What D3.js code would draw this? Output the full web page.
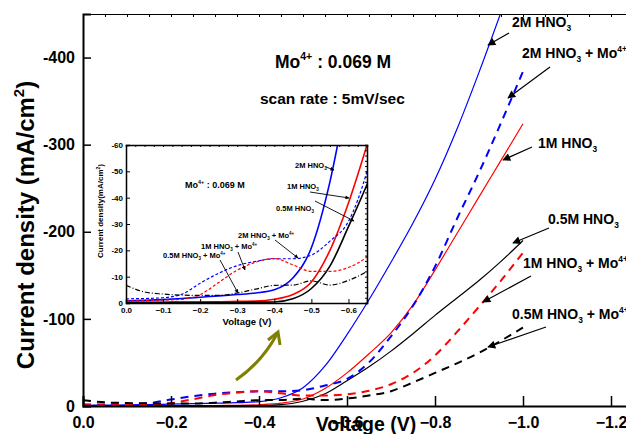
<!DOCTYPE html>
<html lang="en">
<head>
    <meta charset="UTF-8">
    <title>Polarization curves</title>
    <script src="https://d3js.org/d3.v7.min.js"></script>
    <style>
        body { margin: 0; background: #fff; }
        text { font-family: "Liberation Sans", Arial, sans-serif; font-weight: bold; }
    </style>
</head>
<body>
    <div id="chart"></div>
    <script>
        // Data (voltage in V, current density in mA/cm2, plotted as negative)
        const voltage = [0, -0.05, -0.1, -0.15, -0.2, -0.25, -0.3, -0.35, -0.4, -0.45, -0.5,
                         -0.55, -0.6, -0.65, -0.7, -0.75, -0.8, -0.85, -0.9, -0.95, -1.0];
        const hno3_2M   = [0.8, 1.0, 1.3, 1.7, 2.2, 2.7, 3.2, 3.8, 5, 9.5, 21, 46, 82, 122, 165, 210, 260, 318, 383, 452, null];
        const hno3_1M   = [0.4, 0.4, 0.4, 0.5, 0.5, 0.5, 0.6, 0.7, 1.4, 3.2, 8, 20, 38, 60, 84, 116, 156, 198, 240, 282, 324];
        const hno3_05M  = [0.1, 0.1, 0.1, 0.1, 0.1, 0.2, 0.2, 0.3, 0.4, 1.6, 5.5, 14, 29, 45, 63, 83, 104, 124, 144, 166, 190];
        const mo_2M     = [1.6, 1.7, 2.0, 3.3, 7.5, 11.3, 14.2, 15.8, 16.8, 16.8, 18.2, 23.5, 31, 50, 80, 115, 160, 215, 268, 325, 384];
        const mo_1M     = [0.8, 0.9, 1.1, 1.4, 3.2, 7.8, 12.5, 15.5, 16.9, 14.5, 12, 12, 13.5, 17.5, 25, 38, 58, 85, 114, 144, 176];
        const mo_05M    = [6.7, 4.2, 3.4, 3.0, 2.9, 2.9, 3.8, 5.3, 6.7, 6.8, 8.4, 6.8, 8.6, 12, 17, 27, 38, 49, 61, 75, 90];

        const xTicks = [0, -0.2, -0.4, -0.6, -0.8, -1.0, -1.2];
        const yTicks = [0, -100, -200, -300, -400];
        const insetXTicks = [0, -0.1, -0.2, -0.3, -0.4, -0.5, -0.6];
        const insetYTicks = [0, -10, -20, -30, -40, -50, -60];

        const series = [
            { name: '2M', values: hno3_2M, color: '#0000ff', main: 'solid', inset: 'solid' },
            { name: '1M', values: hno3_1M, color: '#ff0000', main: 'solid', inset: 'solid' },
            { name: '05M', values: hno3_05M, color: '#000000', main: 'solid', inset: 'solid' },
            { name: '2MMo', values: mo_2M, color: '#0000ff', main: 'dash', inset: 'dash' },
            { name: '1MMo', values: mo_1M, color: '#ff0000', main: 'dash', inset: 'dash' },
            { name: '05MMo', values: mo_05M, color: '#000000', main: 'dash', inset: 'dashdot' }
        ];

        const width = 626, height = 434;
        const svg = d3.select('#chart').append('svg')
            .attr('width', width).attr('height', height);

        const defs = svg.append('defs');
        defs.append('marker').attr('id', 'arrow')
            .attr('viewBox', '0 0 10 10').attr('refX', 9).attr('refY', 5)
            .attr('markerWidth', 10).attr('markerHeight', 8).attr('markerUnits', 'userSpaceOnUse')
            .attr('orient', 'auto')
            .append('path').attr('d', 'M0,0 L10,5 L0,10 Z').attr('fill', '#000');
        defs.append('marker').attr('id', 'arrowSmall')
            .attr('viewBox', '0 0 10 10').attr('refX', 9).attr('refY', 5)
            .attr('markerWidth', 5).attr('markerHeight', 4).attr('markerUnits', 'userSpaceOnUse')
            .attr('orient', 'auto')
            .append('path').attr('d', 'M0,0 L10,5 L0,10 Z').attr('fill', '#000');

        // main scales
        const x = d3.scaleLinear().domain([0, -1.25]).range([83, 633]);
        const y = d3.scaleLinear().domain([0, -450]).range([406, 14]);

        defs.append('clipPath').attr('id', 'clipMain')
            .append('rect').attr('x', 83).attr('y', 14).attr('width', 560).attr('height', 392);

        const mainLines = svg.append('g').attr('clip-path', 'url(#clipMain)');
        series.forEach(s => {
            const line = d3.line()
                .defined((d, i) => s.values[i] !== null)
                .x((d, i) => x(voltage[i]))
                .y((d, i) => y(-s.values[i]))
                .curve(d3.curveMonotoneX);
            mainLines.append('path')
                .attr('d', line(voltage))
                .attr('fill', 'none')
                .attr('stroke', s.color)
                .attr('stroke-width', s.main === 'solid' ? 1.2 : 2)
                .attr('stroke-dasharray', s.main === 'solid' ? null : '8,6');
        });

        // main axes
        const xAxis = d3.axisBottom(x).tickValues(xTicks).tickSize(-10)
            .tickFormat(d3.format('.1f'));
        const xMinor = d3.axisBottom(x).tickValues(d3.range(0, -1.26, -0.05)).tickSize(-5).tickFormat('');
        const gx = svg.append('g').attr('transform', 'translate(0,406)');
        gx.call(xMinor);
        gx.call(xAxis);
        const yAxis = d3.axisLeft(y).tickValues(yTicks).tickSize(-8).tickFormat(d => d === 0 ? '0' : d);
        const yMinor = d3.axisLeft(y).tickValues(d3.range(0, -451, -20)).tickSize(-5).tickFormat('');
        const gy = svg.append('g').attr('transform', 'translate(83,0)');
        gy.call(yMinor);
        gy.call(yAxis);
        const xTop = d3.axisTop(x).tickValues(d3.range(0, -1.26, -0.05)).tickSize(-3).tickFormat('');
        svg.append('g').attr('transform', 'translate(0,14)').call(xTop);

        [gx, gy].forEach(g => {
            g.selectAll('.domain').attr('stroke-width', 2);
            g.selectAll('.tick line').attr('stroke-width', 1.5);
        });
        svg.selectAll('.domain').attr('stroke', '#000');
        svg.selectAll('.tick text').attr('font-family', '"Liberation Sans", Arial, sans-serif').attr('fill', '#000');
        gx.selectAll('.tick text').attr('font-size', 16).attr('dy', '1.05em').attr('y', 5);
        gy.selectAll('.tick text').attr('font-size', 16).attr('x', -8);

        svg.append('text').attr('x', 366).attr('y', 431).attr('text-anchor', 'middle')
            .attr('font-size', 19.5).text('Voltage (V)');
        const yl = svg.append('text').attr('transform', 'translate(34,225) rotate(-90)')
            .attr('text-anchor', 'middle').attr('font-size', 24);
        yl.append('tspan').text('Current density (mA/cm');
        yl.append('tspan').attr('font-size', 15).attr('dy', -10).text('2');
        yl.append('tspan').attr('dy', 10).text(')');

        // rich label helper: parts of [text, 'sub'|'sup'|null]
        function richText(g, xPos, yPos, size, parts) {
            const t = g.append('text').attr('x', xPos).attr('y', yPos).attr('font-size', size);
            let shift = 0;
            parts.forEach(([str, kind]) => {
                let target = kind === 'sub' ? size * 0.3 : kind === 'sup' ? -size * 0.45 : 0;
                t.append('tspan').attr('dy', target - shift)
                    .attr('font-size', kind ? size * 0.6 : size).text(str);
                shift = target;
            });
            return t;
        }

        const lbl = (conc, mo) => mo
            ? [[conc + ' HNO', null], ['3', 'sub'], [' + Mo', null], ['4+', 'sup']]
            : [[conc + ' HNO', null], ['3', 'sub']];

        const mainLabels = [
            { x: 512, y: 27, parts: lbl('2M', false), from: [509, 33], to: [488, 45] },
            { x: 522, y: 58, parts: lbl('2M', true), from: [550, 67], to: [508, 98] },
            { x: 538, y: 148, parts: lbl('1M', false), from: [532, 147], to: [503, 160] },
            { x: 548, y: 224, parts: lbl('0.5M', false), from: [549, 228], to: [513, 243] },
            { x: 523, y: 268, parts: lbl('1M', true), from: [531, 276], to: [483, 302] },
            { x: 512, y: 319, parts: lbl('0.5M', true), from: [546, 327], to: [488, 347] }
        ];
        mainLabels.forEach(l => {
            richText(svg, l.x, l.y, 14, l.parts);
            svg.append('line').attr('x1', l.from[0]).attr('y1', l.from[1])
                .attr('x2', l.to[0]).attr('y2', l.to[1])
                .attr('stroke', '#000').attr('stroke-width', 1.2).attr('marker-end', 'url(#arrow)');
        });

        richText(svg, 275, 68, 17.5, [['Mo', null], ['4+', 'sup'], [' : 0.069 M', null]]);
        svg.append('text').attr('x', 260).attr('y', 104).attr('font-size', 15.5).text('scan rate : 5mV/sec');

        // olive arrow
        svg.append('path').attr('d', 'M236,380 Q262,362 277,334')
            .attr('fill', 'none').attr('stroke', '#7f7f00').attr('stroke-width', 3);
        svg.append('path').attr('d', 'M268,340 L278,332 L280,345')
            .attr('fill', 'none').attr('stroke', '#7f7f00').attr('stroke-width', 3);

        // inset
        const ix = d3.scaleLinear().domain([0, -0.65]).range([126, 367]);
        const iy = d3.scaleLinear().domain([0, -60]).range([303, 145]);
        const inset = svg.append('g');
        inset.append('rect').attr('x', 126).attr('y', 145).attr('width', 241).attr('height', 158)
            .attr('fill', '#fff');
        defs.append('clipPath').attr('id', 'clipInset')
            .append('rect').attr('x', 126).attr('y', 145).attr('width', 241).attr('height', 158);
        const insetLines = inset.append('g').attr('clip-path', 'url(#clipInset)');
        const dashes = { solid: null, dash: '3,2', dashdot: '5,2,1,2' };
        series.forEach(s => {
            const line = d3.line()
                .defined((d, i) => s.values[i] !== null)
                .x((d, i) => ix(voltage[i]))
                .y((d, i) => iy(-s.values[i]))
                .curve(d3.curveMonotoneX);
            insetLines.append('path')
                .attr('d', line(voltage))
                .attr('fill', 'none')
                .attr('stroke', s.color)
                .attr('stroke-width', s.inset === 'solid' ? 1.6 : 1.2)
                .attr('stroke-dasharray', dashes[s.inset]);
        });

        const ixAxis = d3.axisBottom(ix).tickValues(insetXTicks).tickSize(-4).tickFormat(d3.format('.1f'));
        const ixMinor = d3.axisBottom(ix).tickValues(d3.range(0, -0.651, -0.05)).tickSize(-2).tickFormat('');
        const igx = inset.append('g').attr('transform', 'translate(0,303)');
        igx.call(ixMinor); igx.call(ixAxis);
        const iyAxis = d3.axisLeft(iy).tickValues(insetYTicks).tickSize(-4).tickFormat(d => d === 0 ? '0' : d);
        const iyMinor = d3.axisLeft(iy).tickValues(d3.range(0, -61, -2)).tickSize(-2).tickFormat('');
        const igy = inset.append('g').attr('transform', 'translate(126,0)');
        igy.call(iyMinor); igy.call(iyAxis);
        const ixTop = d3.axisTop(ix).tickValues(d3.range(0, -0.651, -0.025)).tickSize(-2).tickFormat('');
        inset.append('g').attr('transform', 'translate(0,145)').call(ixTop);
        const iyRight = d3.axisRight(iy).tickValues(d3.range(0, -61, -2)).tickSize(-2).tickFormat('');
        inset.append('g').attr('transform', 'translate(367,0)').call(iyRight);
        inset.selectAll('.domain').attr('stroke-width', 1.5);
        inset.selectAll('.tick text').attr('font-size', 8).attr('font-family', '"Liberation Sans", Arial, sans-serif');
        igx.selectAll('.tick text').attr('y', 4);
        igy.selectAll('.tick text').attr('x', -3);

        inset.append('text').attr('x', 247).attr('y', 325).attr('text-anchor', 'middle')
            .attr('font-size', 9.5).text('Voltage (V)');
        const iyl = inset.append('text').attr('transform', 'translate(103,211) rotate(-90)')
            .attr('text-anchor', 'middle').attr('font-size', 8);
        iyl.append('tspan').text('Current density(mA/cm');
        iyl.append('tspan').attr('font-size', 5).attr('dy', -3).text('2');
        iyl.append('tspan').attr('dy', 3).text(')');

        richText(inset, 185, 188, 9, [['Mo', null], ['4+', 'sup'], [' : 0.069 M', null]]);
        const insetLabels = [
            { x: 295, y: 168, parts: lbl('2M', false), from: [326, 167], to: [334, 170] },
            { x: 287, y: 189, parts: lbl('1M', false), from: [310, 192], to: [349, 198] },
            { x: 276, y: 211, parts: lbl('0.5M', false), from: [315, 201], to: [354, 221] },
            { x: 238, y: 238, parts: lbl('2M', true), from: [275, 240], to: [298, 258] },
            { x: 201, y: 249, parts: lbl('1M', true), from: [238, 252], to: [245, 270] },
            { x: 163, y: 258, parts: lbl('0.5M', true), from: [220, 260], to: [238, 293] }
        ];
        insetLabels.forEach(l => {
            richText(inset, l.x, l.y, 7.5, l.parts);
            inset.append('line').attr('x1', l.from[0]).attr('y1', l.from[1])
                .attr('x2', l.to[0]).attr('y2', l.to[1])
                .attr('stroke', '#000').attr('stroke-width', 0.9).attr('marker-end', 'url(#arrowSmall)');
        });
    </script>
</body>
</html>
